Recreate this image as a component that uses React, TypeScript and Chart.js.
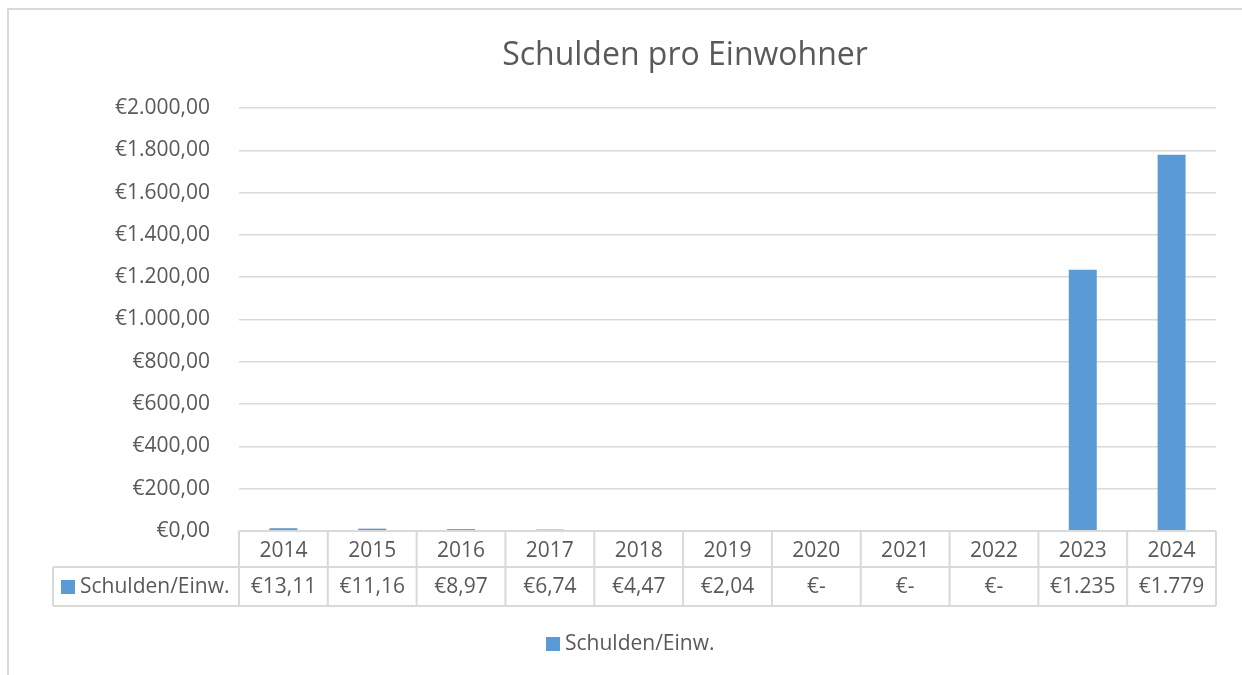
import React, { useEffect, useRef } from "react";
import { Chart, registerables } from "chart.js";

Chart.register(...registerables);

const chartTitle = "Schulden pro Einwohner";
const seriesName = "Schulden/Einw.";
const years = ["2014", "2015", "2016", "2017", "2018", "2019", "2020", "2021", "2022", "2023", "2024"];
const values = [13.11, 11.16, 8.97, 6.74, 4.47, 2.04, 0, 0, 0, 1235, 1779];
const tableLabels = ["€13,11", "€11,16", "€8,97", "€6,74", "€4,47", "€2,04", "€-", "€-", "€-", "€1.235", "€1.779"];
const yMin = 0;
const yMax = 2000;
const yStep = 200;

const BAR_COLOR = "#5b9bd5";
const TEXT_COLOR = "#595959";
const LINE_COLOR = "#d9d9d9";
const FONT = "'Open Sans', 'DejaVu Sans', sans-serif";

function formatEuro(v: number): string {
  const intPart = Math.floor(v).toString().replace(/\B(?=(\d{3})+(?!\d))/g, ".");
  return "€" + intPart + ",00";
}

const overlayPlugin = {
  id: "overlay",
  afterDraw(chart: any) {
    const ctx = chart.ctx as CanvasRenderingContext2D;
    const { left, right, bottom } = chart.chartArea;
    const xs = chart.scales.x;
    ctx.save();

    // outer frame
    ctx.strokeStyle = LINE_COLOR;
    ctx.lineWidth = 2;
    ctx.beginPath();
    ctx.moveTo(8, 675);
    ctx.lineTo(8, 9);
    ctx.lineTo(1242, 9);
    ctx.stroke();

    // title
    ctx.fillStyle = TEXT_COLOR;
    ctx.font = `32px ${FONT}`;
    ctx.textAlign = "center";
    ctx.textBaseline = "middle";
    ctx.fillText(chartTitle, 685, 56);

    // data table
    const top = bottom;
    const mid = bottom + 36;
    const bot = mid + 39;
    const tableLeft = 53;
    const n = years.length;
    const colW = (right - left) / n;

    ctx.strokeStyle = LINE_COLOR;
    ctx.lineWidth = 2;
    ctx.beginPath();
    ctx.moveTo(left, top);
    ctx.lineTo(right, top);
    ctx.moveTo(tableLeft, mid);
    ctx.lineTo(right, mid);
    ctx.moveTo(tableLeft, bot);
    ctx.lineTo(right, bot);
    ctx.moveTo(tableLeft, mid);
    ctx.lineTo(tableLeft, bot);
    for (let i = 0; i <= n; i++) {
      const x = left + i * colW;
      ctx.moveTo(x, top);
      ctx.lineTo(x, bot);
    }
    ctx.stroke();

    ctx.fillStyle = TEXT_COLOR;
    ctx.font = `21px ${FONT}`;
    ctx.textAlign = "center";
    ctx.textBaseline = "middle";
    for (let i = 0; i < n; i++) {
      const cx = xs.getPixelForValue(i);
      ctx.fillText(years[i], cx, (top + mid) / 2 + 2);
      ctx.fillText(tableLabels[i], cx, (mid + bot) / 2 + 1);
    }

    // series key in table
    ctx.fillStyle = BAR_COLOR;
    ctx.fillRect(61, 580, 14, 14);
    ctx.fillStyle = TEXT_COLOR;
    ctx.textAlign = "left";
    ctx.fillText(seriesName, 80, (mid + bot) / 2 + 1);

    // legend
    ctx.fillStyle = BAR_COLOR;
    ctx.fillRect(546, 637, 14, 14);
    ctx.fillStyle = TEXT_COLOR;
    ctx.fillText(seriesName, 565, 644);

    ctx.restore();
  },
};

export default function App() {
  const canvasRef = useRef<HTMLCanvasElement | null>(null);

  useEffect(() => {
    if (!canvasRef.current) return;
    const chart = new Chart(canvasRef.current, {
      type: "bar",
      data: {
        labels: years,
        datasets: [
          {
            label: seriesName,
            data: values,
            backgroundColor: BAR_COLOR,
            categoryPercentage: 1,
            barPercentage: 0.315,
          },
        ],
      },
      options: {
        responsive: false,
        animation: false,
        layout: { padding: { left: 0, right: 26, top: 108, bottom: 144 } },
        plugins: {
          legend: { display: false },
          title: { display: false },
          tooltip: { enabled: false },
        },
        scales: {
          x: { display: false },
          y: {
            min: yMin,
            max: yMax,
            border: { display: false },
            grid: { color: LINE_COLOR, lineWidth: 1.5, drawTicks: false },
            ticks: {
              stepSize: yStep,
              padding: 29,
              color: TEXT_COLOR,
              font: { family: FONT, size: 21 },
              callback: (v: any) => formatEuro(Number(v)),
            },
            afterFit: (scale: any) => {
              scale.width = 239;
            },
          },
        },
      },
      plugins: [overlayPlugin],
    });
    return () => chart.destroy();
  }, []);

  return (
    <div style={{ position: "fixed", left: 0, top: 0, width: 1242, height: 675, background: "#fff" }}>
      <canvas ref={canvasRef} width={1242} height={675} />
    </div>
  );
}
